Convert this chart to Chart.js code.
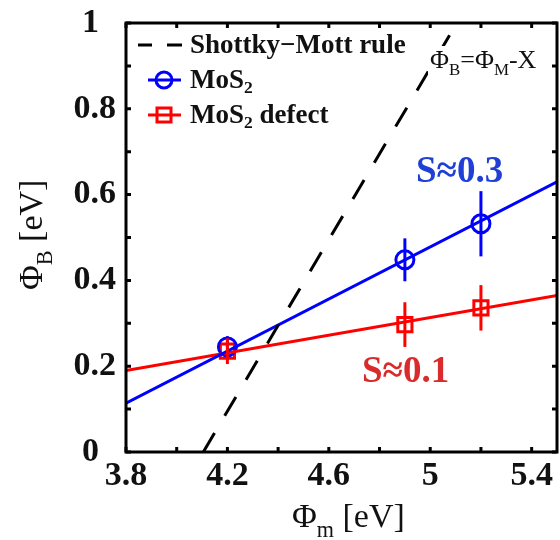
<!DOCTYPE html>
<html>
<head>
<meta charset="utf-8">
<script src="https://cdn.jsdelivr.net/npm/chart.js@4.4.1/dist/chart.umd.min.js"></script>
<style>
  html, body { margin: 0; padding: 0; background: #fff; overflow: hidden; }
  #wrap { width: 560px; height: 540px; }
  canvas { display: block; }
</style>
</head>
<body>
<div id="wrap"><canvas id="barrierChart" width="560" height="540"></canvas></div>
<script>
// --- Data ---
const metalWF = [4.2, 4.9, 5.2];             // Phi_m [eV]
const mos2Barrier = [0.245, 0.448, 0.532];   // Phi_B, MoS2
const mos2Err = [0.025, 0.05, 0.076];
const defectBarrier = [0.235, 0.297, 0.336]; // Phi_B, MoS2 defect
const defectErr = [0.03, 0.052, 0.053];

const fitX = [3.8, 5.5];
const mos2FitY = [0.114, 0.63];      // S~0.3
const defectFitY = [0.19, 0.365];    // S~0.1
const smX = [4.105, 5.105];          // Shottky-Mott rule
const smY = [0, 1];

const xTicks = [3.8, 4.2, 4.6, 5.0, 5.4];
const xTickLabels = ['3.8', '4.2', '4.6', '5', '5.4'];
const xMinor = [3.8, 4.0, 4.2, 4.4, 4.6, 4.8, 5.0, 5.2, 5.4];
const yTicks = [0, 0.2, 0.4, 0.6, 0.8, 1];
const yTickLabels = ['0  ', '0.2', '0.4', '0.6', '0.8', '1  '];
const yMinor = [0, 0.1, 0.2, 0.3, 0.4, 0.5, 0.6, 0.7, 0.8, 0.9, 1];

const BLUE = '#0000ff';
const RED = '#ff0000';
const SERIF = '"Liberation Serif", "Times New Roman", serif';

function pts(xs, ys) { return xs.map((x, i) => ({ x: x, y: ys[i] })); }

// draw text with a lowered subscript, returns end x
function subText(ctx, parts, x, y, size, weight) {
  parts.forEach(p => {
    const s = p.sub ? size * 0.65 : size;
    ctx.font = weight + ' ' + s + 'px ' + SERIF;
    ctx.fillText(p.t, x, p.sub ? y + size * 0.28 : y);
    x += ctx.measureText(p.t).width;
  });
  return x;
}

function noPad(s) { s.paddingLeft = 0; s.paddingRight = 0; s.paddingTop = 0; s.paddingBottom = 0; }

const decor = {
  id: 'decor',
  afterDatasetsDraw(chart) {
    const ctx = chart.ctx, xs = chart.scales.x, ys = chart.scales.y;
    const a = chart.chartArea;
    ctx.save();

    // error bars
    ctx.lineWidth = 3;
    [[mos2Barrier, mos2Err, BLUE], [defectBarrier, defectErr, RED]].forEach(([vals, errs, col]) => {
      ctx.strokeStyle = col;
      metalWF.forEach((x, i) => {
        const px = xs.getPixelForValue(x);
        ctx.beginPath();
        ctx.moveTo(px, ys.getPixelForValue(vals[i] - errs[i]));
        ctx.lineTo(px, ys.getPixelForValue(vals[i] + errs[i]));
        ctx.stroke();
      });
    });

    // annotation of the Shottky-Mott line
    ctx.fillStyle = '#fff';
    ctx.fillRect(428, 46, 120, 34);
    ctx.fillStyle = '#111';
    ctx.textBaseline = 'alphabetic';
    subText(ctx, [{ t: 'Φ' }, { t: 'B', sub: true }, { t: '=Φ' }, { t: 'M', sub: true }, { t: '-X' }], 430, 68, 26, 'normal');

    // slope labels
    ctx.font = 'bold 37px ' + SERIF;
    ctx.fillStyle = '#1f3fd6';
    ctx.fillText('S≈0.3', 416, 182);
    ctx.fillStyle = '#d92b2b';
    ctx.fillText('S≈0.1', 362, 382);

    // legend
    const lx0 = 148, lx1 = 181, tx = 190;
    ctx.lineWidth = 3;
    ctx.strokeStyle = '#000';
    ctx.beginPath();
    ctx.moveTo(138, 45); ctx.lineTo(152, 45);
    ctx.moveTo(167, 45); ctx.lineTo(182, 45);
    ctx.stroke();
    ctx.fillStyle = '#111';
    ctx.textBaseline = 'middle';
    ctx.font = 'bold 27px ' + SERIF;
    ctx.fillText('Shottky−Mott rule', tx, 46);

    ctx.strokeStyle = BLUE;
    ctx.beginPath(); ctx.moveTo(lx0, 80); ctx.lineTo(lx1, 80); ctx.stroke();
    ctx.beginPath(); ctx.arc(164, 80, 8, 0, Math.PI * 2); ctx.stroke();
    subText(ctx, [{ t: 'MoS' }, { t: '2', sub: true }], tx, 81, 27, 'bold');

    ctx.strokeStyle = RED;
    ctx.beginPath(); ctx.moveTo(lx0, 115); ctx.lineTo(lx1, 115); ctx.stroke();
    ctx.strokeRect(157, 108, 14, 14);
    subText(ctx, [{ t: 'MoS' }, { t: '2', sub: true }, { t: ' defect' }], tx, 116, 27, 'bold');

    // frame + inward ticks
    ctx.strokeStyle = '#000';
    ctx.lineWidth = 3;
    ctx.strokeRect(a.left, a.top, a.right - a.left, a.bottom - a.top);
    ctx.beginPath();
    xMinor.forEach(v => {
      const px = xs.getPixelForValue(v);
      ctx.moveTo(px, a.bottom); ctx.lineTo(px, a.bottom - 5);
      ctx.moveTo(px, a.top); ctx.lineTo(px, a.top + 5);
    });
    yMinor.forEach(v => {
      const py = ys.getPixelForValue(v);
      ctx.moveTo(a.left, py); ctx.lineTo(a.left + 5, py);
      ctx.moveTo(a.right, py); ctx.lineTo(a.right - 5, py);
    });
    ctx.stroke();

    // axis titles
    ctx.fillStyle = '#111';
    ctx.textBaseline = 'alphabetic';
    subText(ctx, [{ t: 'Φ' }, { t: 'm', sub: true }, { t: ' [eV]' }], 292, 527, 34, 'normal');
    ctx.translate(42, 290);
    ctx.rotate(-Math.PI / 2);
    subText(ctx, [{ t: 'Φ' }, { t: 'B', sub: true }, { t: ' [eV]' }], 0, 0, 34, 'normal');
    ctx.restore();
  }
};

const tickFont = { family: SERIF, size: 34, weight: 'bold' };

new Chart(document.getElementById('barrierChart').getContext('2d'), {
  type: 'scatter',
  data: {
    datasets: [
      { type: 'line', data: pts(smX, smY), borderColor: '#000', borderWidth: 3, borderDash: [22, 20], pointRadius: 0, fill: false },
      { type: 'line', data: pts(fitX, mos2FitY), borderColor: BLUE, borderWidth: 3, pointRadius: 0, fill: false },
      { type: 'line', data: pts(fitX, defectFitY), borderColor: RED, borderWidth: 3, pointRadius: 0, fill: false },
      { data: pts(metalWF, mos2Barrier), pointStyle: 'circle', pointRadius: 9, borderWidth: 3, borderColor: BLUE, backgroundColor: 'rgba(0,0,0,0)' },
      { data: pts(metalWF, defectBarrier), pointStyle: 'rect', pointRadius: 10, borderWidth: 3, borderColor: RED, backgroundColor: 'rgba(0,0,0,0)' }
    ]
  },
  options: {
    responsive: false,
    animation: false,
    layout: { autoPadding: false, padding: { left: 0, top: 23, right: 3, bottom: 0 } },
    plugins: { legend: { display: false }, tooltip: { enabled: false } },
    scales: {
      x: {
        type: 'linear', min: 3.8, max: 5.5,
        afterBuildTicks: s => { s.ticks = xTicks.map(v => ({ value: v })); },
        afterFit: s => { s.height = 88; noPad(s); },
        ticks: { callback: (v, i) => xTickLabels[i], font: tickFont, color: '#111', padding: -4, maxRotation: 0, autoSkip: false },
        grid: { display: false }, border: { display: false }
      },
      y: {
        type: 'linear', min: 0, max: 1,
        afterBuildTicks: s => { s.ticks = yTicks.map(v => ({ value: v })); },
        afterFit: s => { s.width = 126; noPad(s); },
        ticks: { callback: (v, i) => yTickLabels[i], font: tickFont, color: '#111', padding: 2, autoSkip: false },
        grid: { display: false }, border: { display: false }
      }
    }
  },
  plugins: [decor]
});
</script>
</body>
</html>
